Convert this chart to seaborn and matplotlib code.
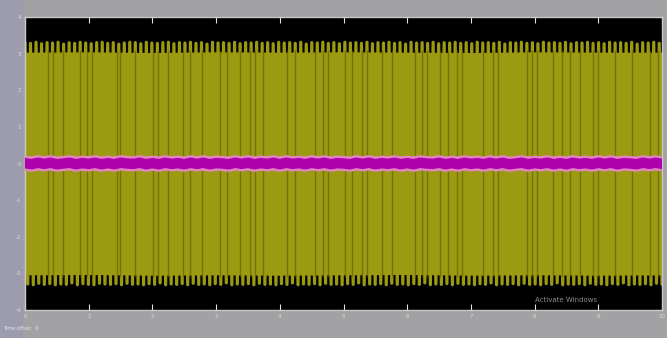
import numpy as np
import matplotlib
matplotlib.use("Agg")
import matplotlib.pyplot as plt
import seaborn as sns
from matplotlib.patches import Rectangle

# scope x / y ticks
x_ticks = [0, 1, 2, 3, 4, 5, 6, 7, 8, 9, 10]
y_ticks = [-4, -3, -2, -1, 0, 1, 2, 3, 4]

# positive / negative peaks of the yellow signal (one per cycle)
peaks_hi = [3.30, 3.28, 3.31, 3.27, 3.30, 3.29, 3.31, 3.26, 3.30, 3.28,
            3.31, 3.29, 3.27, 3.30, 3.31, 3.28, 3.30, 3.26, 3.29, 3.31,
            3.30, 3.27, 3.31, 3.29, 3.28, 3.30, 3.31, 3.27, 3.30, 3.29,
            3.31, 3.28, 3.30, 3.26, 3.31, 3.29, 3.30, 3.28, 3.31, 3.27,
            3.30, 3.29, 3.31, 3.28, 3.30, 3.27, 3.31, 3.29, 3.30, 3.28,
            3.31, 3.26, 3.30, 3.29, 3.31, 3.28, 3.30, 3.27, 3.31, 3.29,
            3.30, 3.28, 3.31, 3.27, 3.30, 3.29, 3.31, 3.28, 3.30, 3.26,
            3.31, 3.29, 3.30, 3.28, 3.31, 3.27, 3.30, 3.29, 3.31, 3.28,
            3.30, 3.27, 3.31, 3.29, 3.30, 3.28, 3.31, 3.26, 3.30, 3.29,
            3.31, 3.28, 3.30, 3.27, 3.31, 3.29, 3.30, 3.28, 3.31, 3.27,
            3.30, 3.29, 3.31, 3.28, 3.30, 3.27, 3.31, 3.29, 3.30, 3.28,
            3.31, 3.26, 3.30, 3.29, 3.31, 3.28]
peaks_lo = [-3.29, -3.31, -3.27, -3.30, -3.28, -3.31, -3.29, -3.30, -3.26, -3.31,
            -3.28, -3.30, -3.31, -3.27, -3.29, -3.30, -3.28, -3.31, -3.27, -3.30,
            -3.29, -3.31, -3.28, -3.30, -3.26, -3.31, -3.29, -3.30, -3.28, -3.31,
            -3.27, -3.30, -3.29, -3.31, -3.28, -3.30, -3.26, -3.31, -3.29, -3.30,
            -3.28, -3.31, -3.27, -3.30, -3.29, -3.31, -3.28, -3.30, -3.26, -3.31,
            -3.29, -3.30, -3.28, -3.31, -3.27, -3.30, -3.29, -3.31, -3.28, -3.30,
            -3.26, -3.31, -3.29, -3.30, -3.28, -3.31, -3.27, -3.30, -3.29, -3.31,
            -3.28, -3.30, -3.26, -3.31, -3.29, -3.30, -3.28, -3.31, -3.27, -3.30,
            -3.29, -3.31, -3.28, -3.30, -3.26, -3.31, -3.29, -3.30, -3.28, -3.31,
            -3.27, -3.30, -3.29, -3.31, -3.28, -3.30, -3.26, -3.31, -3.29, -3.30,
            -3.28, -3.31, -3.27, -3.30, -3.29, -3.31, -3.28, -3.30, -3.26, -3.31,
            -3.29, -3.30, -3.28, -3.31, -3.27, -3.30]

# solid body of the yellow band (below the teeth)
env_x = [0, 1, 2, 3, 4, 5, 6, 7, 8, 9, 10]
env_hi = [3.04, 3.05, 3.03, 3.05, 3.04, 3.05, 3.04, 3.03, 3.05, 3.04, 3.04]
env_lo = [-3.04, -3.03, -3.05, -3.04, -3.05, -3.04, -3.03, -3.05, -3.04, -3.05, -3.04]

# dark striations in the yellow band
stripes = [0.36, 0.44, 0.60, 0.86, 0.97, 1.05, 1.44, 1.49, 1.73, 2.01, 2.09, 2.24,
           2.48, 2.59, 2.78, 3.06, 3.17, 3.38, 3.53, 3.61, 3.74, 4.11, 4.24, 4.55,
           4.68, 4.76, 5.02, 5.13, 5.29, 5.37, 5.60, 5.76, 6.12, 6.23, 6.31, 6.51,
           6.64, 6.78, 6.86, 7.19, 7.35, 7.43, 7.88, 7.96, 8.04, 8.29, 8.43, 8.56,
           8.71, 8.92, 9.00, 9.26, 9.53, 9.81, 9.94]

# magenta trace near zero (fine noise)
mag = [0.01, -0.02, 0.02, -0.01, 0.02, -0.02, 0.00, 0.02, -0.02, 0.01,
       -0.01, 0.02, -0.02, 0.01, -0.02, 0.02, 0.00, -0.01, 0.02, -0.02,
       0.01, -0.02, 0.02, -0.01, 0.01, -0.02, 0.02, -0.01, 0.02, -0.02,
       0.01, 0.00, -0.02, 0.02, -0.01, 0.02, -0.02, 0.01, -0.01, 0.02,
       -0.02, 0.02, -0.01, 0.01, -0.02, 0.02, -0.01, 0.02, -0.02, 0.01,
       0.00, -0.02, 0.02, -0.01, 0.02, -0.02, 0.01, -0.01, 0.02, -0.02,
       0.01, -0.02, 0.02, 0.00, -0.01, 0.02, -0.02, 0.01, -0.02, 0.02,
       -0.01, 0.01, -0.02, 0.02, -0.01, 0.02, -0.02, 0.00, 0.02, -0.02,
       0.01, -0.01, 0.02, -0.02, 0.01, -0.02, 0.02, -0.01, 0.01, -0.02,
       0.02, -0.01, 0.02, -0.02, 0.01, 0.00, -0.02, 0.02, -0.01, 0.02, -0.01]

n = len(peaks_hi)
t = np.linspace(0, 10, 2 * n)
sig = np.empty(2 * n)
sig[0::2] = peaks_hi
sig[1::2] = peaks_lo
t_mag = np.linspace(0, 10, len(mag))

sns.set_style("dark")
fig = plt.figure(figsize=(6.67, 3.38), dpi=100, facecolor="#a2a2a4")
fig.add_artist(Rectangle((0, 0), 22 / 667, 1, transform=fig.transFigure,
                         color="#9c9cae", zorder=0))
ax = fig.add_axes([25 / 667, 1 - 310 / 338, 637 / 667, 293 / 338])
ax.set_facecolor("black")

yellow = "#9c9a10"
ax.fill_between(env_x, env_lo, env_hi, color=yellow, lw=0, zorder=1)
sns.lineplot(x=t, y=sig, ax=ax, color=yellow, lw=2.3, sort=False,
             estimator=None, zorder=2)
ax.vlines(stripes, -3.1, 3.1, color="#5e5c00", lw=1.0, alpha=0.6, zorder=3)

sns.lineplot(x=t_mag, y=mag, ax=ax, color="#de86bd", lw=11, sort=False,
             estimator=None, zorder=4)
sns.lineplot(x=t_mag, y=mag, ax=ax, color="#b000ad", lw=7.5, sort=False,
             estimator=None, zorder=5)

ax.set_xlim(0, 10)
ax.set_ylim(-4, 4)
ax.set_xticks(x_ticks)
ax.set_yticks(y_ticks)
ax.set_xticklabels([str(v) for v in x_ticks])
ax.set_yticklabels([str(v) for v in y_ticks])
ax.tick_params(axis="both", direction="in", color="#e0e0e0", length=4,
               labelsize=4, labelcolor="#dcdcdc", top=True, right=True,
               bottom=True, left=True, pad=3)
ax.set_xlabel("")
ax.set_ylabel("")
for s in ax.spines.values():
    s.set_color("#c8c8c8")
    s.set_linewidth(1)

ax.text(0.80, 0.025, "Activate Windows", transform=ax.transAxes,
        color="#8c8c8c", fontsize=5, va="bottom")
fig.text(3 / 667, 1 - 329 / 338, "Time offset:  0", color="#e6e6e6",
         fontsize=3.5, va="center")

fig.savefig("out.png", dpi=100, facecolor=fig.get_facecolor())
